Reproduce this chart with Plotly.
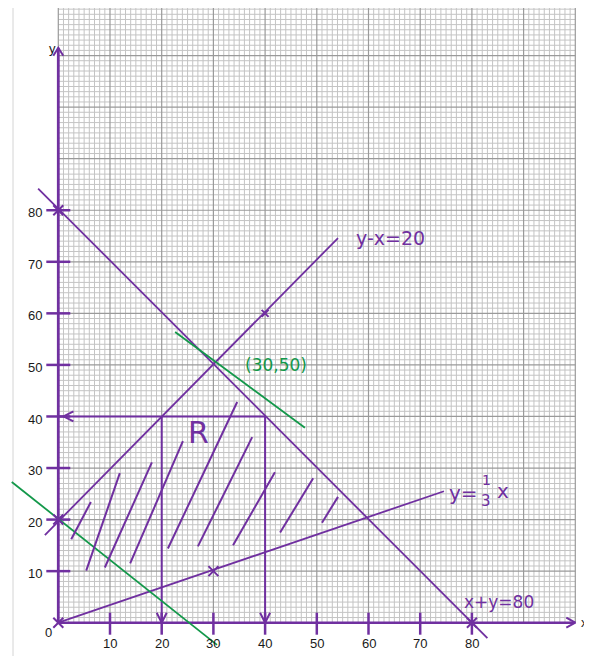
import plotly.graph_objects as go

PURPLE = "#7030a0"
GREEN = "#13984a"
MINOR = "#c4c4c4"
MAJOR = "#9a9a9a"

# ---------------- data ----------------
X_MAX = 100          # graph paper extent
Y_MAX = 120
x_axis_end = 100     # arrow tip of x-axis
y_axis_end = 111.5   # arrow tip of y-axis
x_tick_vals = [10, 20, 30, 40, 50, 60, 70, 80]
y_tick_vals = [10, 20, 30, 40, 50, 60, 70, 80]
x_tick_text = ["10", "20", "30", "40", "50", "60", "70", "80"]
y_tick_text = ["10", "20", "30", "40", "50", "60", "70", "80"]

# constraint lines (end points)
sum_x = [-3.9, 83.0]      # x + y = 80
sum_y = [84.2, -3.0]
diff_x = [-2.6, 54.1]     # y - x = 20
diff_y = [17.0, 74.6]
third_x = [0, 74.6]       # y = x/3
third_y = [0, 25.5]
# objective lines (green)
tan_x = [22.6, 47.7]
tan_y = [56.4, 37.8]
low_x = [-9.0, 30.7]
low_y = [27.3, -4.3]
# guide lines to the axes
guide_h_x = [0, 40]
guide_h_y = [40, 40]
guide_v_x = [20, 40]
guide_v_top = [40, 40]
# hatch strokes in region R
hatch_x0 = [2.5, 5.4, 9.0, 13.9, 21.2, 27.0, 33.8, 42.9, 51.0]
hatch_y0 = [16.2, 10.1, 10.7, 11.5, 14.4, 14.8, 15.0, 17.5, 19.4]
hatch_x1 = [6.3, 11.9, 18.1, 24.1, 34.6, 37.5, 41.9, 49.3, 54.1]
hatch_y1 = [23.4, 29.0, 31.1, 35.2, 42.8, 36.0, 29.2, 28.0, 24.4]
# plotted points (crosses)
cross_x = [0, 80, 0, 30, 0]
cross_y = [80, 0, 20, 10, 0]
small_cross_x = [40]
small_cross_y = [60]

# ---------------- pixel scale of the page ----------------
# the page body has an 8px margin, so the figure is 8px smaller each way
PAGE_W, PAGE_H, BODY = 592, 656, 8
W, H = PAGE_W - BODY, PAGE_H - BODY
X0_PX, X100_PX = 58.3, 575.3      # window pixel positions
Y0_PX, Y120_PX = 622.7, 4.0
SX = (X100_PX - X0_PX) / X_MAX
SY = (Y0_PX - Y120_PX) / Y_MAX
X_LO = -(X0_PX - BODY) / SX
X_HI = X_LO + W / SX
Y_LO = -(PAGE_H - Y0_PX) / SY
Y_HI = Y_LO + H / SY


def seg_trace(xs0, ys0, xs1, ys1, color, width):
    xs, ys = [], []
    for a, b, c, d in zip(xs0, ys0, xs1, ys1):
        xs += [a, c, None]
        ys += [b, d, None]
    return go.Scatter(x=xs, y=ys, mode="lines", hoverinfo="skip",
                      line=dict(color=color, width=width), showlegend=False)


def chevron(tx, ty, direction, length=10, half=5):
    # open arrow head at tip (tx, ty); sizes in pixels
    dx = {"up": 0, "down": 0, "left": -1, "right": 1}[direction]
    dy = {"up": 1, "down": -1, "left": 0, "right": 0}[direction]
    bx, by = -dx * length, -dy * length
    px_, py_ = -dy * half, dx * half
    a = (tx + (bx + px_) / SX, ty + (by + py_) / SY)
    b = (tx + (bx - px_) / SX, ty + (by - py_) / SY)
    return [a[0], tx, b[0], None], [a[1], ty, b[1], None]


fig = go.Figure()

# graph paper: minor and major grid
mx, my, Mx, My = [], [], [], []
for v in range(0, X_MAX + 1):
    tx, ty = (Mx, My) if v % 10 == 0 else (mx, my)
    tx += [v, v, None]
    ty += [0, Y_MAX, None]
for v in range(0, Y_MAX + 1):
    tx, ty = (Mx, My) if v % 10 == 0 else (mx, my)
    tx += [0, X_MAX, None]
    ty += [v, v, None]
fig.add_trace(go.Scatter(x=mx, y=my, mode="lines", hoverinfo="skip",
                         line=dict(color=MINOR, width=1), showlegend=False))
fig.add_trace(go.Scatter(x=Mx, y=My, mode="lines", hoverinfo="skip",
                         line=dict(color=MAJOR, width=1.2), showlegend=False))

# page border line
fig.add_trace(go.Scatter(x=[(13 - X0_PX) / SX] * 2, y=[Y_LO, Y_HI], mode="lines",
                         hoverinfo="skip", line=dict(color="#d4d4d4", width=1),
                         showlegend=False))

# axes
fig.add_trace(go.Scatter(x=[0, x_axis_end], y=[0, 0], mode="lines",
                         line=dict(color=PURPLE, width=2.5), showlegend=False, hoverinfo="skip"))
fig.add_trace(go.Scatter(x=[0, 0], y=[0, y_axis_end], mode="lines",
                         line=dict(color=PURPLE, width=2.8), showlegend=False, hoverinfo="skip"))
# tick marks crossing the axes
tl, tr = -12 / SX, 12 / SX
fig.add_trace(seg_trace([tl] * len(y_tick_vals), y_tick_vals, [tr] * len(y_tick_vals),
                        y_tick_vals, PURPLE, 2.5))
tb, tt = -12 / SY, 10 / SY
fig.add_trace(seg_trace(x_tick_vals, [tt] * len(x_tick_vals), x_tick_vals,
                        [tb] * len(x_tick_vals), PURPLE, 2.5))

# arrow heads
ax_x, ax_y = [], []
for tip, d, ln, hf in [((x_axis_end, 0), "right", 9, 5), ((0, y_axis_end), "up", 8, 5),
                       ((guide_h_x[0] + 1, guide_h_y[0]), "left", 10, 5),
                       ((guide_v_x[0], 0), "down", 10, 5), ((guide_v_x[1], 0), "down", 10, 5)]:
    cx, cy = chevron(tip[0], tip[1], d, ln, hf)
    ax_x += cx
    ax_y += cy
fig.add_trace(go.Scatter(x=ax_x, y=ax_y, mode="lines", hoverinfo="skip",
                         line=dict(color=PURPLE, width=2), showlegend=False))

# guide lines
fig.add_trace(go.Scatter(x=guide_h_x, y=guide_h_y, mode="lines", hoverinfo="skip",
                         line=dict(color=PURPLE, width=2), showlegend=False))
fig.add_trace(seg_trace(guide_v_x, guide_v_top, guide_v_x, [0, 0], PURPLE, 2))

# constraint lines
for xs, ys in [(sum_x, sum_y), (diff_x, diff_y), (third_x, third_y)]:
    fig.add_trace(go.Scatter(x=xs, y=ys, mode="lines", hoverinfo="skip",
                             line=dict(color=PURPLE, width=1.8), showlegend=False))
# objective lines
for xs, ys in [(tan_x, tan_y), (low_x, low_y)]:
    fig.add_trace(go.Scatter(x=xs, y=ys, mode="lines", hoverinfo="skip",
                             line=dict(color=GREEN, width=1.8), showlegend=False))

# hatching
fig.add_trace(seg_trace(hatch_x0, hatch_y0, hatch_x1, hatch_y1, PURPLE, 2))

# crosses
fig.add_trace(go.Scatter(x=cross_x, y=cross_y, mode="markers", hoverinfo="skip",
                         marker=dict(symbol="x-thin", size=10,
                                     line=dict(color=PURPLE, width=2)), showlegend=False))
fig.add_trace(go.Scatter(x=small_cross_x, y=small_cross_y, mode="markers", hoverinfo="skip",
                         marker=dict(symbol="x-thin", size=7,
                                     line=dict(color=PURPLE, width=2)), showlegend=False))

# ---------------- texts ----------------
ann = []
tick_font = dict(family="Liberation Sans, Arial", size=13, color="#1a1a1a")
for v, t in zip(y_tick_vals, y_tick_text):
    ann.append(dict(x=(44 - X0_PX) / SX, y=v - 0.5, text=t, xanchor="right", yanchor="middle",
                    showarrow=False, font=tick_font))
for v, t in zip(x_tick_vals, x_tick_text):
    ann.append(dict(x=v, y=(Y0_PX - 643) / SY, text=t, xanchor="center", yanchor="middle",
                    showarrow=False, font=tick_font))
ann.append(dict(x=(48 - X0_PX) / SX, y=(Y0_PX - 632) / SY, text="0", showarrow=False,
                font=tick_font))
ann.append(dict(x=(52 - X0_PX) / SX, y=(Y0_PX - 48) / SY, text="y", showarrow=False,
                font=tick_font))
ann.append(dict(x=(579 - X0_PX) / SX, y=(Y0_PX - 622) / SY, text="x", showarrow=False,
                xanchor="left", yanchor="middle", font=tick_font))

hand = "DejaVu Sans, Noto Sans"
ann.append(dict(x=64.2, y=74.7, text="y-x=20", showarrow=False,
                font=dict(family=hand, size=19, color=PURPLE)))
ann.append(dict(x=42.1, y=49.9, text="(30,50)", showarrow=False,
                font=dict(family=hand, size=17, color=GREEN)))
ann.append(dict(x=85.3, y=4.1, text="x+y=80", showarrow=False,
                font=dict(family=hand, size=17, color=PURPLE)))
ann.append(dict(x=27.2, y=36.9, text="R", showarrow=False,
                font=dict(family=hand, size=30, color=PURPLE)))
ann.append(dict(x=78.4, y=25.2, text="y=", showarrow=False,
                font=dict(family=hand, size=20, color=PURPLE)))
ann.append(dict(x=82.8, y=27.6, text="1", showarrow=False,
                font=dict(family=hand, size=14, color=PURPLE)))
ann.append(dict(x=82.8, y=23.6, text="3", showarrow=False,
                font=dict(family=hand, size=15, color=PURPLE)))
ann.append(dict(x=86.0, y=25.5, text="x", showarrow=False,
                font=dict(family=hand, size=20, color=PURPLE)))

fig.update_layout(
    width=W, height=H,
    margin=dict(l=0, r=0, t=0, b=0, pad=0),
    paper_bgcolor="white", plot_bgcolor="white",
    xaxis=dict(range=[X_LO, X_HI], visible=False, fixedrange=True),
    yaxis=dict(range=[Y_LO, Y_HI], visible=False, fixedrange=True),
    annotations=ann,
    showlegend=False,
)

fig.write_html("out.html")
